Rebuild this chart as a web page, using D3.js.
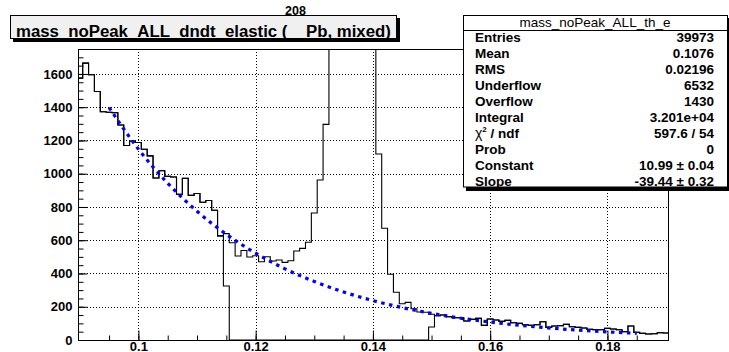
<!DOCTYPE html>
<html><head><meta charset="utf-8">
<script src="https://cdn.jsdelivr.net/npm/d3@7"></script>
<style>
body{margin:0;background:#fff}
svg{display:block}
text{font-family:"Liberation Sans",Arial,Helvetica,sans-serif}
</style>
</head><body>
<svg id="c" width="729" height="352"></svg>
<script>
// ---------------- data ----------------
const binWidth = 0.001;
const binCenters = d3.range(101).map(i => +(0.090 + i * binWidth).toFixed(3)); // 0.090 ... 0.190

// fitted histogram (peak region removed)
const noPeakCounts = [
  1575,1665,1595,1494,1373,1370,1367,1293,1170,1197,   // 0.090-0.099
  1188,1147,1107, 974,1018, 984, 980, 876, 972, 870,   // 0.100-0.109
   881, 828, 839, 780, 626, 325,   0,   0,   0,   0,   // 0.110-0.119
     0,   0,   0,   0,   0,   0,   0,   0,   0,   0,   // 0.120-0.129
     0,   0,   0,   0,   0,   0,   0,   0,   0,   0,   // 0.130-0.139
     0,   0,   0,   0,   0,   0,   0,   0,   0,   0,   // 0.140-0.149
    78, 146, 150, 140, 134, 134, 114, 124, 130,  88,   // 0.150-0.159
   126, 120, 112, 118, 104, 100,  92,  88,  92, 110,   // 0.160-0.169
    76,  84,  86,  94,  80,  76,  72,  64,  62,  62,   // 0.170-0.179
    70,  66,  62,  50,  84,  46,  40,  36,  38,  44,   // 0.180-0.189
    42                                                 // 0.190
];
// full mixed-event spectrum (with the pi0 peak)
const fullCounts = [
  1575,1665,1595,1494,1373,1370,1367,1293,1170,1197,
  1188,1147,1107, 974,1018, 984, 980, 876, 972, 870,
   881, 828, 839, 780, 626, 640, 585, 505, 538, 499,
   507, 471, 501, 475, 481, 467, 477, 535, 551, 588,
   764, 962,1297,2300,3600,4400,4200,3400,2600,2100,
  1850,1119, 672, 395, 287, 218, 226, 188, 168, 167,
   155, 146, 150, 140, 134, 134, 114, 124, 130,  88,
   126, 120, 112, 118, 104, 100,  92,  88,  92, 110,
    76,  84,  86,  94,  80,  76,  72,  64,  62,  62,
    70,  66,  62,  50,  84,  46,  40,  36,  38,  44,
    42
];
// exponential fit curve (Constant 10.99, Slope -39.44)
const fitX = [0.095,0.100,0.105,0.110,0.115,0.120,0.125,0.130,0.135,0.140,
              0.145,0.150,0.155,0.160,0.165,0.170,0.175,0.180,0.185];
const fitY = [1398,1148,943,774,636,522,428,352,289,237,
              195,160,131,108,88.5,72.6,59.6,49.0,40.2];

const xMajorTicks = [0.10,0.12,0.14,0.16,0.18];
const xMinorTicks = d3.range(19).map(i => +(0.095 + i*0.005).toFixed(3));
const yMajorTicks = [0,200,400,600,800,1000,1200,1400,1600];
const yMinorTicks = d3.range(36).map(i => i*50);

const titleMain = "mass_noPeak_ALL_dndt_elastic (";
const titleSup = "208";
const titleEnd = "Pb, mixed)";
const statsHeader = "mass_noPeak_ALL_th_e";
const statLabels = ["Entries","Mean","RMS","Underflow","Overflow","Integral","CHI","Prob","Constant","Slope"];
const statValues = ["39973","0.1076","0.02196","6532","1430","3.201e+04","597.6 / 54","0","10.99 \u00b1 0.04","-39.44 \u00b1 0.32"];

// ---------------- layout ----------------
const L = 78, R = 669, T = 49, B = 340;
const svg = d3.select("#c");
const x = d3.scaleLinear().domain([0.0897, 0.1905]).range([L, R]);
const y = d3.scaleLinear().domain([0, 1750]).range([B, T]);

svg.append("defs").append("clipPath").attr("id","clip")
  .append("rect").attr("x",L).attr("y",T).attr("width",R-L).attr("height",B-T);

// grid
const grid = svg.append("g").attr("stroke","#000").attr("stroke-width",1).attr("stroke-dasharray","1,2");
grid.selectAll("line.gx").data(xMajorTicks).join("line")
  .attr("class","gx")
  .attr("x1",d=>Math.round(x(d))+0.5).attr("x2",d=>Math.round(x(d))+0.5)
  .attr("y1",T).attr("y2",B);
grid.selectAll("line.gy").data(yMajorTicks.filter(d=>d>0)).join("line")
  .attr("class","gy")
  .attr("y1",d=>Math.round(y(d))+0.5).attr("y2",d=>Math.round(y(d))+0.5)
  .attr("x1",L).attr("x2",R);

// histograms
function stepPoints(vals){
  const pts = [[binCenters[0]-binWidth/2, 0]];
  vals.forEach((v,i)=>{
    pts.push([binCenters[i]-binWidth/2, v]);
    pts.push([binCenters[i]+binWidth/2, v]);
  });
  pts.push([binCenters[binCenters.length-1]+binWidth/2, 0]);
  return pts;
}
const line = d3.line().x(d=>x(d[0])).y(d=>y(d[1]));
const plot = svg.append("g").attr("clip-path","url(#clip)");
plot.append("path").attr("d", line(stepPoints(fullCounts)))
  .attr("fill","none").attr("stroke","#000").attr("stroke-width",1.1);
plot.append("path").attr("d", line(stepPoints(noPeakCounts)))
  .attr("fill","none").attr("stroke","#000").attr("stroke-width",1.1);

// fit
const fitLine = d3.line().x((d,i)=>x(fitX[i])).y(d=>y(d)).curve(d3.curveMonotoneX);
plot.append("path").attr("d", fitLine(fitY))
  .attr("fill","none").attr("stroke","#0000ff").attr("stroke-width",3.2)
  .attr("stroke-dasharray","3.5,4.5");

// frame
svg.append("rect").attr("x",L+0.5).attr("y",T+0.5).attr("width",R-L-1).attr("height",B-T)
  .attr("fill","none").attr("stroke","#000").attr("stroke-width",1);

// axes
const fontCss = "bold 13px 'Liberation Sans', Arial, Helvetica, sans-serif";
const yAxis = svg.append("g").attr("transform",`translate(${L+0.5},0)`)
  .call(d3.axisLeft(y).tickValues(yMajorTicks).tickSize(-9).tickPadding(6).tickFormat(d3.format("d")));
const yMinor = svg.append("g").attr("transform",`translate(${L+0.5},0)`)
  .call(d3.axisLeft(y).tickValues(yMinorTicks).tickSize(-5).tickFormat(""));
const xAxis = svg.append("g").attr("transform",`translate(0,${B+0.5})`)
  .call(d3.axisBottom(x).tickValues(xMajorTicks).tickSize(-10).tickPadding(0).tickFormat(d=>String(d)));
const xMinor = svg.append("g").attr("transform",`translate(0,${B+0.5})`)
  .call(d3.axisBottom(x).tickValues(xMinorTicks).tickSize(-5).tickFormat(""));
[yAxis,yMinor,xAxis,xMinor].forEach(g=>{
  g.select(".domain").remove();
  g.selectAll(".tick line").attr("stroke","#000");
  g.selectAll("text").style("font",fontCss).attr("fill","#000");
});
xAxis.selectAll("text").attr("dy",null).attr("y",10);

// title box
const tb = svg.append("g");
tb.append("rect").attr("x",13).attr("y",18).attr("width",387).attr("height",24).attr("fill","#000");
tb.append("rect").attr("x",10.5).attr("y",15.5).attr("width",386).attr("height",23)
  .attr("fill","#f0f0f0").attr("stroke","#000").attr("stroke-width",1);
tb.append("text").attr("x",16).attr("y",36.5).attr("text-anchor","start")
  .attr("font-weight","bold").attr("font-size","16.8px").text(titleMain);
tb.append("text").attr("x",285).attr("y",15).attr("text-anchor","start")
  .attr("font-weight","bold").attr("font-size","12.5px").text(titleSup);
tb.append("text").attr("x",306).attr("y",36.5).attr("text-anchor","start")
  .attr("font-weight","bold").attr("font-size","16.8px").text(titleEnd);

// stats box
const sb = svg.append("g");
sb.append("rect").attr("x",466).attr("y",18).attr("width",265).attr("height",173).attr("fill","#000");
sb.append("rect").attr("x",463.5).attr("y",15.5).attr("width",264).attr("height",171.5)
  .attr("fill","#fff").attr("stroke","#000").attr("stroke-width",1);
sb.append("line").attr("x1",463.5).attr("x2",727.5).attr("y1",30.5).attr("y2",30.5)
  .attr("stroke","#000").attr("stroke-width",1);
sb.append("text").attr("x",595).attr("y",27.3).attr("text-anchor","middle")
  .style("font","13.5px 'Liberation Sans', Arial, Helvetica, sans-serif").text(statsHeader);
const statFont = "bold 13.5px 'Liberation Sans', Arial, Helvetica, sans-serif";
statLabels.forEach((lab,i)=>{
  const yy = 41.7 + 16*i;
  const t = sb.append("text").attr("x",475).attr("y",yy).style("font",statFont);
  if(lab==="CHI"){
    t.append("tspan").style("font-weight","normal").style("font-size","14px").text("\u03c7");
    t.append("tspan").attr("dy",-6).style("font-size","8px").text("2");
    t.append("tspan").attr("dy",6).text(" / ndf");
  } else t.text(lab);
  sb.append("text").attr("x",714).attr("y",yy).attr("text-anchor","end").style("font",statFont).text(statValues[i]);
});
</script>
</body></html>
